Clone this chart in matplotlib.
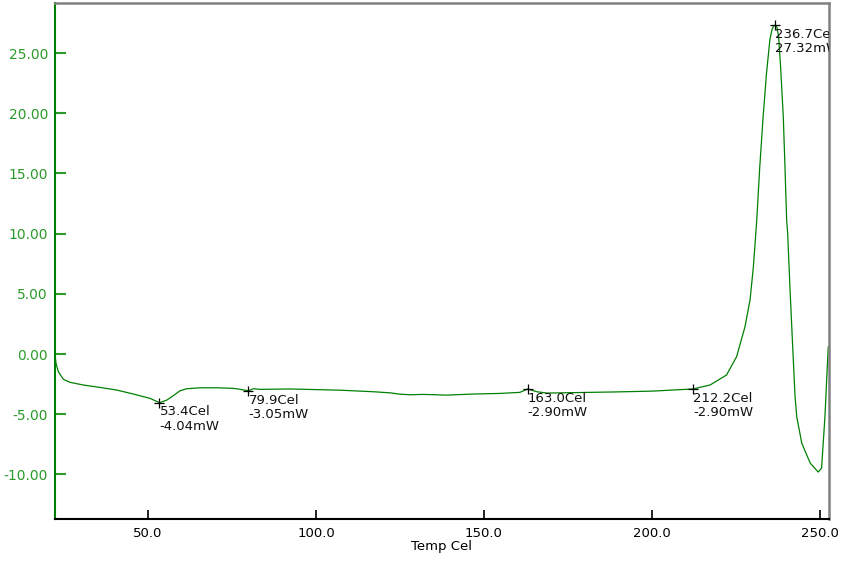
import matplotlib.pyplot as plt

# DSC trace: temperature (Cel) vs heat flow (mW)
temp = [22.3, 22.6, 23.3, 24.8, 26.8, 30.7, 35.7, 40.7, 45.6, 50.6, 53.4,
        55.6, 57.5, 59.5, 61.5, 65.5, 70.4, 75.4, 77.4, 79.9, 81.3, 83.3,
        92.3, 107.1, 117.1, 122.0, 125.0, 128.0, 131.9, 138.9, 146.8, 154.8, 160.7,
        163.0, 165.7, 168.8, 188.4, 200.0, 212.2, 217.3, 222.2, 225.2, 227.7,
        229.2, 230.2, 231.2, 232.1, 233.1, 234.1, 235.1, 235.7, 236.2, 236.7, 237.2,
        237.7, 238.3, 239.1, 239.6, 240.1, 240.4, 241.1, 241.9, 242.6, 243.1, 244.6,
        247.1, 249.5, 250.5, 251.5, 252.2, 252.5]
heat = [0.0, -0.78, -1.47, -2.10, -2.35, -2.57, -2.77, -2.99, -3.32, -3.68, -4.04,
        -3.82, -3.46, -3.05, -2.88, -2.80, -2.80, -2.85, -2.93, -3.05, -2.88, -2.93,
        -2.90, -3.00, -3.13, -3.22, -3.33, -3.38, -3.35, -3.41, -3.32, -3.27, -3.18,
        -2.90, -3.13, -3.24, -3.15, -3.08, -2.90, -2.57, -1.74, -0.22, 2.27,
        4.49, 7.25, 11.13, 15.56, 19.71, 23.31, 26.08, 26.90, 27.25, 27.32, 27.15,
        26.40, 23.86, 19.71, 15.56, 11.13, 10.05, 5.40, 0.60, -3.50, -5.20, -7.40,
        -9.05, -9.80, -9.47, -5.20, -1.05, 0.60]

# marked points
mark_t = [53.4, 79.9, 163.0, 212.2, 236.7]
mark_v = [-4.04, -3.05, -2.90, -2.90, 27.32]

xticks = [50, 100, 150, 200, 250]
yticks = [-10, -5, 0, 5, 10, 15, 20, 25]

green = '#008000'
label_green = '#2a9a2a'

fig = plt.figure(figsize=(8.41, 5.62), dpi=100)
ax = fig.add_axes([0.0654, 0.0765, 0.9203, 0.918])

ax.plot(temp, heat, color=green, lw=0.9)

for t, v in zip(mark_t, mark_v):
    ax.plot(t, v, marker='+', color='black', ms=6.5, mew=0.9)
    ax.annotate('%.1fCel\n%.2fmW' % (t, v), (t, v), xytext=(0, -2),
                textcoords='offset points', ha='left', va='top',
                fontsize=9.5, linespacing=1.15, color='#111111',
                annotation_clip=False, clip_on=True)

ax.set_xlim(22.3, 252.7)
ax.set_ylim(-13.7, 29.15)
ax.set_xticks(xticks)
ax.set_xticklabels(['%.1f' % x for x in xticks])
ax.set_yticks(yticks)
ax.set_yticklabels(['%.2f' % y for y in yticks])

ax.tick_params(axis='y', direction='in', length=8, width=1.5,
               color=label_green, labelcolor=label_green, labelsize=10, pad=5)
ax.tick_params(axis='x', direction='in', length=6.5, width=1.2,
               color='black', labelsize=9.5, pad=6)

ax.spines['left'].set_color(green)
ax.spines['left'].set_linewidth(1.5)
ax.spines['bottom'].set_color('black')
ax.spines['bottom'].set_linewidth(1.5)
for side in ('top', 'right'):
    ax.spines[side].set_color('#808080')
    ax.spines[side].set_linewidth(1.8)

ax.set_xlabel('Temp Cel', fontsize=9.5, labelpad=0)

fig.savefig('out.png', dpi=100)
